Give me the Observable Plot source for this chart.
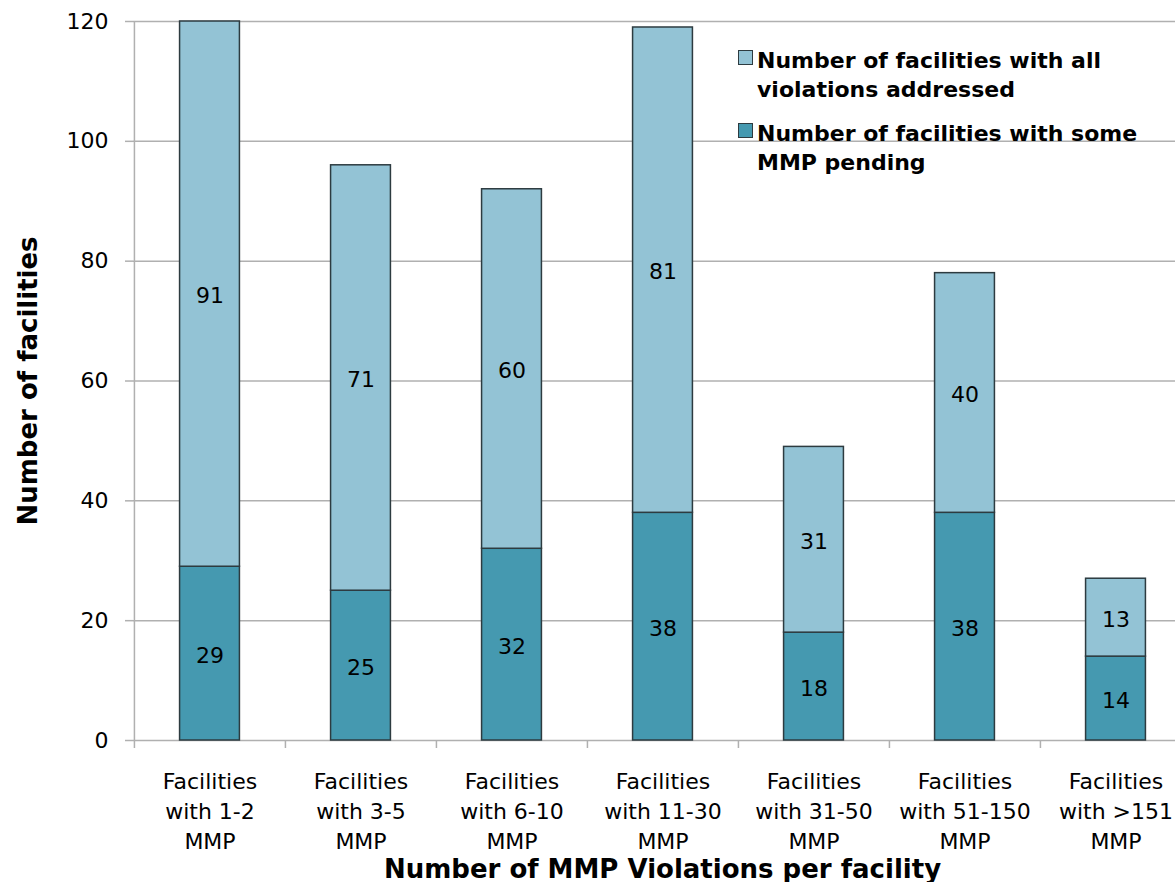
<!DOCTYPE html>
<html>
<head>
<meta charset="utf-8">
<script src="https://cdn.jsdelivr.net/npm/d3@7"></script>
<script src="https://cdn.jsdelivr.net/npm/@observablehq/plot@0.6"></script>
<style>
  html, body { margin: 0; padding: 0; background: #fff; }
  #wrap { position: relative; width: 1175px; height: 882px; font-family: "DejaVu Sans", sans-serif; }
  #legend { position: absolute; left: 738px; top: 46px; font-weight: bold; font-size: 22px; line-height: 29px; color: #000; }
  .item { position: relative; padding-left: 19px; margin-bottom: 15px; }
  .sw { position: absolute; left: 0; top: 4px; width: 13px; height: 13px; border: 1px solid #2d3b40; }
</style>
</head>
<body>
<div id="wrap"><div id="chart"></div><div id="legend"></div></div>
<script>
const categories = ["1-2", "3-5", "6-10", "11-30", "31-50", "51-150", ">151"];
const tickLabels = [
  "Facilities\nwith 1-2\nMMP",
  "Facilities\nwith 3-5\nMMP",
  "Facilities\nwith 6-10\nMMP",
  "Facilities\nwith 11-30\nMMP",
  "Facilities\nwith 31-50\nMMP",
  "Facilities\nwith 51-150\nMMP",
  "Facilities\nwith >151\nMMP"
];
const pending = [29, 25, 32, 38, 18, 38, 14];
const addressed = [91, 71, 60, 81, 31, 40, 13];
const seriesNames = ["Number of facilities with some MMP pending", "Number of facilities with all violations addressed"];
const legendLabels = ["Number of facilities with all\nviolations addressed", "Number of facilities with some\nMMP pending"];
const legendSeries = [1, 0];
const colors = ["#4599b0", "#93c3d5"];
const yTicks = [0, 20, 40, 60, 80, 100, 120];

const data = categories.flatMap((c, i) => [
  {cat: c, series: seriesNames[0], value: pending[i]},
  {cat: c, series: seriesNames[1], value: addressed[i]}
]);

const W = 1175, H = 882, mL = 133, mT = 21, mB = 142;
const xRange = [133, 1191];
const step = (xRange[1] - xRange[0]) / categories.length;
const barW = 60;
const inset = (step - barW) / 2;
const grey = "#b0b0b0";
const pxPerUnit = (H - mB - mT) / 120;

const chart = Plot.plot({
  width: W, height: H,
  marginLeft: mL, marginRight: 0, marginTop: mT, marginBottom: mB,
  style: {fontFamily: "'DejaVu Sans', sans-serif", background: "#fff", overflow: "visible"},
  x: {domain: categories, range: xRange, padding: 0, label: null},
  y: {domain: [0, 120], label: null},
  color: {domain: seriesNames, range: colors},
  marks: [
    Plot.gridY(yTicks, {stroke: grey, strokeOpacity: 1, strokeWidth: 1.5}),
    Plot.ruleX([categories[0]], {dx: -step / 2, y1: 0, y2: 120, stroke: grey, strokeWidth: 1.5}),
    Plot.ruleX(categories, {dx: -step / 2, y1: 0, y2: -8 / pxPerUnit, stroke: grey, strokeWidth: 1.5}),
    Plot.axisY({ticks: yTicks, tickSize: 8, tickPadding: 17, fontSize: 22, stroke: grey, strokeWidth: 1.5, fill: "#000", label: null}),
    Plot.axisX({tickSize: 0, tickPadding: 27, fontSize: 22, lineHeight: 30 / 22, fill: "#000",
      tickFormat: (d) => tickLabels[categories.indexOf(d)], label: null}),
    Plot.barY(data, {x: "cat", y: "value", fill: "series", stroke: "#2d3b40", strokeWidth: 1.5,
      insetLeft: inset, insetRight: inset}),
    Plot.text(data, Plot.stackY({x: "cat", y: "value", text: (d) => String(d.value), fontSize: 22, fill: "#000", dy: 2})),
    Plot.text(["Number of facilities"], {frameAnchor: "left", textAnchor: "middle", lineAnchor: "middle", rotate: -90, dx: -105, fontSize: 26, fontWeight: "bold", fill: "#000"}),
    Plot.text(["Number of MMP Violations per facility"], {frameAnchor: "bottom", textAnchor: "middle", lineAnchor: "middle", dx: 8, dy: 129, fontSize: 26, fontWeight: "bold", fill: "#000"})
  ]
});
document.getElementById("chart").appendChild(chart);

const legend = document.getElementById("legend");
legendSeries.forEach((s, k) => {
  const item = document.createElement("div");
  item.className = "item";
  const sw = document.createElement("div");
  sw.className = "sw";
  sw.style.background = colors[s];
  item.appendChild(sw);
  legendLabels[k].split("\n").forEach((line) => {
    const t = document.createElement("div");
    t.textContent = line;
    item.appendChild(t);
  });
  legend.appendChild(item);
});
</script>
</body>
</html>
